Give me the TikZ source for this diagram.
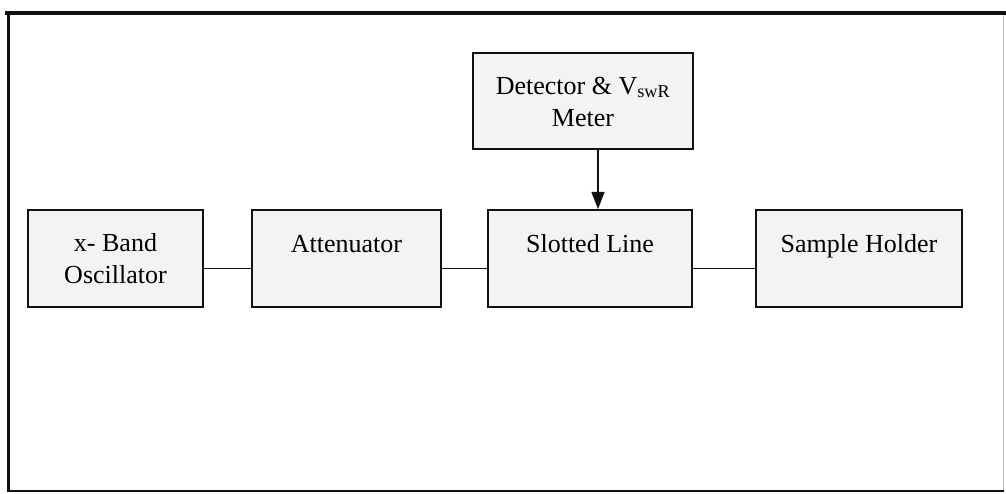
\documentclass[tikz,border=0pt]{standalone}
\usepackage{fontspec}
\setmainfont{Liberation Serif}
\usepackage{xcolor}
\definecolor{blkFill}{HTML}{F3F3F3}
\definecolor{blkInk}{HTML}{111111}
\usepackage{tikz}
\usetikzlibrary{positioning,arrows.meta}

\begin{document}
\begin{tikzpicture}[
      x=1pt,y=-1pt,
      every node/.style={font=\fontsize{26}{32}\selectfont},
      blk/.style={rectangle,draw=blkInk,fill=blkFill,line width=2pt,
                  minimum height=97pt,align=center,inner sep=2pt},
      toprow/.style={text height=18pt,text depth=30pt},
      wire/.style={line width=1.5pt,blkInk},
      arr/.style={-{Triangle[length=17pt,width=13pt]},line width=1.5pt,blkInk},
    ]
    \useasboundingbox (0,0) rectangle (1006,494);

    % Outer frame
    \draw[line width=4pt,blkInk] (5,13) -- (1006,13);
    \draw[line width=3pt,blkInk] (8,11) -- (8,492);
    \draw[line width=2.5pt,blkInk] (7,491) -- (1004,491);
    \draw[line width=0.8pt,black!25] (1003,15) -- (1003,490);

    % Main chain of blocks
    \node[blk,minimum width=175pt] (osc) at (115.5,258.5) {%
      x- Band\\Oscillator%
    };
    \node[blk,toprow,minimum width=189pt,right=47pt of osc] (att) {Attenuator};
    \node[blk,toprow,minimum width=204pt,right=45pt of att] (slot) {Slotted Line};
    \node[blk,toprow,minimum width=206pt,right=62pt of slot] (holder) {Sample Holder};

    % Detector above the slotted line
    \node[blk,minimum width=220pt,minimum height=96pt] (det) at (583,101.5) {%
      Detector \& V\textsubscript{swR}\\Meter%
    };

    % Connections
    \draw[wire] ([yshift=-10pt]osc.east) -- ([yshift=-10pt]att.west);
    \draw[wire] ([yshift=-10pt]att.east) -- ([yshift=-10pt]slot.west);
    \draw[wire] ([yshift=-10pt]slot.east) -- ([yshift=-10pt]holder.west);
    \draw[arr] ([xshift=15pt]det.south) -- ([xshift=15pt]det.south |- slot.north);

  \end{tikzpicture}
\end{document}
